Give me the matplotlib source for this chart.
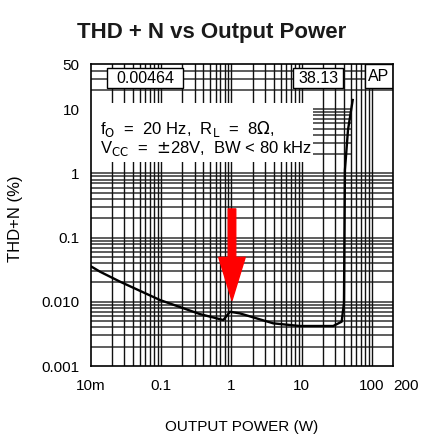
import numpy as np
import matplotlib.pyplot as plt
from matplotlib.patches import Rectangle

plt.rcParams['font.family'] = ['Liberation Sans', 'DejaVu Sans']

# curve
power_w = [0.0103, 0.0136, 0.0261, 0.0966, 0.357, 0.767, 0.955, 1.32, 3.94,
           9.4, 28.0, 36.9, 39.8, 41.1, 45.4, 53.0]
thd_n_pct = [0.0352, 0.0294, 0.0206, 0.01066, 0.00644, 0.0052, 0.0070, 0.0066,
             0.00462, 0.0042, 0.0042, 0.0049, 0.0096, 1.13, 4.74, 13.9]

x_ticks = [0.01, 0.1, 1, 10, 100, 200]
x_labels = ['10m', '0.1', '1', '10', '100', '200']
y_ticks = [0.001, 0.01, 0.1, 1, 10, 50]
y_labels = ['0.001', '0.010', '0.1', '1', '10', '50']

readout_left = '0.00464'
readout_right = '38.13'
cond_line1 = r'f$_{\rm O}$  =  20 Hz,  R$_{\rm L}$  =  8$\Omega$,'
cond_line2 = r'V$_{\rm CC}$  =  $\pm$28V,  BW < 80 kHz'
arrow_x = 1.02
arrow_top, arrow_tip = 0.28, 0.0105

xmin, xmax = 0.01, 200
ymin, ymax = 0.001, 50

fig = plt.figure(figsize=(4.31, 4.45), dpi=100)
ax = fig.add_axes([0.2104, 0.1775, 0.7021, 0.678])
ax.set_xscale('log')
ax.set_yscale('log')
ax.set_xlim(xmin, xmax)
ax.set_ylim(ymin, ymax)

# datasheet style grid, drawn by hand so the masks can sit between layers
for d in range(-3, 2):
    for k in range(1, 10):
        v = k * 10.0 ** d
        if ymin < v < ymax:
            ax.axhline(v, color='#505050', lw=1.3, zorder=1)
for d in range(-2, 3):
    for k in range(1, 10):
        v = k * 10.0 ** d
        if xmin < v < xmax:
            ax.axvline(v, color='#111111', lw=1.0, zorder=2)

# white masks behind the condition text
ax.add_patch(Rectangle((0.0, 0.675), 0.735, 0.197, transform=ax.transAxes,
                       facecolor='white', edgecolor='none', zorder=3))
ax.add_patch(Rectangle((0.865, 0.668), 0.135, 0.24, transform=ax.transAxes,
                       facecolor='white', edgecolor='none', zorder=1.5))

ax.plot(power_w, thd_n_pct, color='black', lw=1.7, zorder=5)

ax.text(0.03, 0.785, cond_line1, transform=ax.transAxes, fontsize=12,
        va='center', ha='left', zorder=6)
ax.text(0.03, 0.72, cond_line2, transform=ax.transAxes, fontsize=12,
        va='center', ha='left', zorder=6)

# readout boxes
for x0, w, txt in [(0.054, 0.251, readout_left), (0.669, 0.165, readout_right)]:
    ax.add_patch(Rectangle((x0, 0.921), w, 0.067, transform=ax.transAxes,
                           facecolor='white', edgecolor='black', lw=1.0, zorder=6))
    ax.text(x0 + w / 2, 0.953, txt, transform=ax.transAxes, fontsize=11.5,
            ha='center', va='center', zorder=7)
ax.add_patch(Rectangle((0.906, 0.921), 0.094, 0.079, transform=ax.transAxes,
                       facecolor='white', edgecolor='black', lw=1.0, zorder=6))
ax.text(0.953, 0.96, 'AP', transform=ax.transAxes, fontsize=11.5,
        ha='center', va='center', zorder=7)

ax.annotate('', xy=(arrow_x, arrow_tip), xytext=(arrow_x, arrow_top),
            arrowprops=dict(arrowstyle='simple,head_length=1.55,head_width=0.95,tail_width=0.27',
                            color='red', mutation_scale=20, shrinkA=0, shrinkB=0),
            zorder=8)

ax.set_xticks(x_ticks)
ax.set_xticklabels(x_labels)
ax.set_yticks(y_ticks)
ax.set_yticklabels(y_labels)
ax.minorticks_off()
ax.tick_params(length=0, labelsize=11, pad=8)
ax.tick_params(axis='x', pad=9)
ax.get_xticklabels()[-1].set_horizontalalignment('left')
for s in ax.spines.values():
    s.set_linewidth(1.2)
    s.set_zorder(9)

fig.text(0.49, 0.928, 'THD + N vs Output Power', fontsize=16,
         fontweight='bold', ha='center', va='center', color='#1a1a1a')
ax.set_xlabel('OUTPUT POWER (W)', fontsize=11, labelpad=20)
fig.text(0.035, 0.508, 'THD+N (%)', rotation=90, fontsize=12,
         ha='center', va='center')

fig.savefig('out.png', dpi=100)
